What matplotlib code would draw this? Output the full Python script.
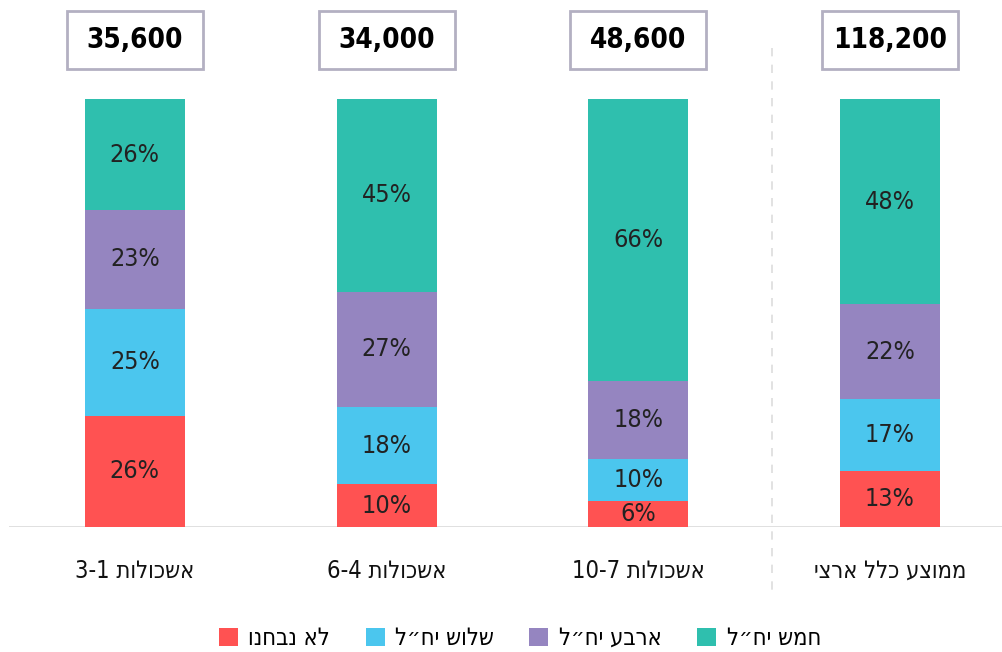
import matplotlib
matplotlib.use("Agg")
import matplotlib.pyplot as plt
from matplotlib.patches import Rectangle
import numpy as np

plt.rcParams['font.family'] = ['DejaVu Sans']
plt.rcParams['font.stretch'] = 'condensed'

# data (Hebrew strings kept in logical order, reversed for drawing)
groups = ["אשכולות 1-3", "אשכולות 4-6", "אשכולות 7-10", "ממוצע כלל ארצי"]
totals = [35600, 34000, 48600, 118200]
series_names = ["לא נבחנו", "שלוש יח״ל", "ארבע יח״ל", "חמש יח״ל"]
not_tested = [26, 10, 6, 13]
three_units = [25, 18, 10, 17]
four_units = [23, 27, 18, 22]
five_units = [26, 45, 66, 48]

colors = ["#FF5252", "#4BC6EE", "#9585C0", "#2FBFAE"]


def rtl(s):
    # matplotlib has no bidi: flip hebrew words, keep number ranges as read
    words = s.split(" ")
    out = []
    for w in words:
        if any('\u0590' <= c <= '\u05FF' for c in w):
            out.append(w[::-1])
        else:
            out.append("-".join(w.split("-")[::-1]))
    return " ".join(out[::-1])


fig = plt.figure(figsize=(10.03, 6.52), dpi=100)
ax = fig.add_axes([9 / 1003, 125 / 652, 994 / 1003, 428 / 652])

x = np.arange(len(groups))
width = 100 / 251.7
bottom = np.zeros(len(groups))
for vals, col, name in zip([not_tested, three_units, four_units, five_units], colors, series_names):
    vals = np.array(vals)
    ax.bar(x, vals, width, bottom=bottom, color=col, label=rtl(name), zorder=2)
    for xi, b, v in zip(x, bottom, vals):
        ax.text(xi, b + v / 2, f"{v}%", ha="center", va="center", fontsize=18,
                color="#222222", zorder=3)
    bottom += vals

ax.set_xlim(-0.5, -0.5 + 994 / 251.7)
ax.set_ylim(0, 100)
ax.axis("off")

# baseline
ax.axhline(0, color="#DDDDDD", lw=2, zorder=1)
# dashed separator
sep = -0.5 + (772 - 9) / 251.7
ax.plot([sep, sep], [(527 - 48) / 4.28, (527 - 590) / 4.28], ls=(0, (5, 5)),
        color="#DDDDDD", lw=1.2, clip_on=False)

# total boxes
bw = 136 / 251.7
for xi, t in zip(x, totals):
    ax.add_patch(Rectangle((xi - bw / 2, (527 - 69) / 4.28), bw, 58 / 4.28,
                           facecolor="white", edgecolor="#B3B0C2", lw=2, clip_on=False))
    ax.text(xi, (527 - 40) / 4.28, f"{t:,}", ha="center", va="center",
            fontsize=20, fontweight="bold", color="black")

# category labels
for xi, g in zip(x, groups):
    ax.text(xi, (527 - 571) / 4.28, rtl(g), ha="center", va="center", fontsize=17,
            color="#111111")

handles, labels = ax.get_legend_handles_labels()
fig.legend(handles, labels, loc="center", bbox_to_anchor=(520 / 1003, 1 - 638 / 652),
           ncol=4, frameon=False, fontsize=17, handlelength=0.8, handleheight=0.8,
           handletextpad=0.45, columnspacing=1.5)

fig.savefig("out.png", dpi=100)
